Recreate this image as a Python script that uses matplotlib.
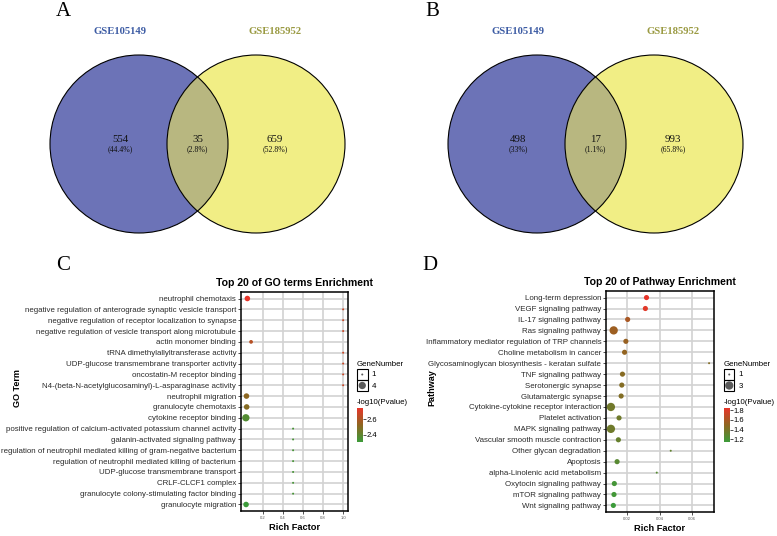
import matplotlib
matplotlib.use("Agg")
import matplotlib.pyplot as plt
import numpy as np
from matplotlib.patches import Circle, Rectangle
from matplotlib.colors import LinearSegmentedColormap, Normalize
from matplotlib.cm import ScalarMappable

plt.rcParams['font.family'] = ['Liberation Sans', 'DejaVu Sans']

# ---------------- data ----------------
venn_sets = ["GSE105149", "GSE185952"]
venn_A = [554, 35, 659]      # only set1, both, only set2
venn_B = [498, 17, 993]

go_terms = [
    "neutrophil chemotaxis",
    "negative regulation of anterograde synaptic vesicle transport",
    "negative regulation of receptor localization to synapse",
    "negative regulation of vesicle transport along microtubule",
    "actin monomer binding",
    "tRNA dimethylallyltransferase activity",
    "UDP-glucose transmembrane transporter activity",
    "oncostatin-M receptor binding",
    "N4-(beta-N-acetylglucosaminyl)-L-asparaginase activity",
    "neutrophil migration",
    "granulocyte chemotaxis",
    "cytokine receptor binding",
    "positive regulation of calcium-activated potassium channel activity",
    "galanin-activated signaling pathway",
    "regulation of neutrophil mediated killing of gram-negative bacterium",
    "regulation of neutrophil mediated killing of bacterium",
    "UDP-glucose transmembrane transport",
    "CRLF-CLCF1 complex",
    "granulocyte colony-stimulating factor binding",
    "granulocyte migration",
]
go_rich = [0.043, 1.0, 1.0, 1.0, 0.08, 1.0, 1.0, 1.0, 1.0, 0.034, 0.036, 0.028,
           0.5, 0.5, 0.5, 0.5, 0.5, 0.5, 0.5, 0.030]
go_genes = [3, 1, 1, 1, 2, 1, 1, 1, 1, 3, 3, 4, 1, 1, 1, 1, 1, 1, 1, 3]
go_logp = [2.74, 2.66, 2.66, 2.66, 2.62, 2.66, 2.66, 2.66, 2.66, 2.52, 2.50, 2.37,
           2.34, 2.34, 2.34, 2.34, 2.34, 2.34, 2.34, 2.31]
go_xticks = [0.2, 0.4, 0.6, 0.8, 1.0]
go_xticklabels = ["0.2", "0.4", "0.6", "0.8", "1.0"]
go_cbar_ticks = [2.4, 2.6]

kegg_terms = [
    "Long-term depression",
    "VEGF signaling pathway",
    "IL-17 signaling pathway",
    "Ras signaling pathway",
    "Inflammatory mediator regulation of TRP channels",
    "Choline metabolism in cancer",
    "Glycosaminoglycan biosynthesis - keratan sulfate",
    "TNF signaling pathway",
    "Serotonergic synapse",
    "Glutamatergic synapse",
    "Cytokine-cytokine receptor interaction",
    "Platelet activation",
    "MAPK signaling pathway",
    "Vascular smooth muscle contraction",
    "Other glycan degradation",
    "Apoptosis",
    "alpha-Linolenic acid metabolism",
    "Oxytocin signaling pathway",
    "mTOR signaling pathway",
    "Wnt signaling pathway",
]
kegg_rich = [0.032, 0.0313, 0.0204, 0.0118, 0.0193, 0.0185, 0.0705, 0.0172, 0.0168,
             0.0164, 0.0101, 0.0151, 0.0101, 0.0147, 0.0469, 0.0139, 0.0383, 0.0122,
             0.0120, 0.0116]
kegg_genes = [2, 2, 2, 3, 2, 2, 1, 2, 2, 2, 3, 2, 3, 2, 1, 2, 1, 2, 2, 2]
kegg_logp = [1.85, 1.82, 1.60, 1.55, 1.53, 1.51, 1.45, 1.46, 1.45, 1.44, 1.37, 1.36,
             1.36, 1.32, 1.30, 1.26, 1.25, 1.18, 1.17, 1.14]
kegg_xticks = [0.02, 0.04, 0.06]
kegg_xticklabels = ["0.02", "0.04", "0.06"]
kegg_cbar_ticks = [1.2, 1.4, 1.6, 1.8]

# ---------------- layout helpers ----------------
W, H = 777, 536
fig = plt.figure(figsize=(W / 100, H / 100), dpi=100)
fig.patch.set_facecolor("white")


def add_px_axes(l, t, r, b):
    return fig.add_axes([l / W, 1 - b / H, (r - l) / W, (b - t) / H])


def ftext(x, y, s, **kw):
    return fig.text(x / W, 1 - y / H, s, **kw)


SERIF = ["Liberation Serif", "DejaVu Serif"]
BLUE = "#6c73b7"
YELLOW = "#f1ee85"
OLIVE = "#b8b780"
LAB_BLUE = "#3d5ca4"
LAB_OLIVE = "#9a9a42"

cmap = LinearSegmentedColormap.from_list("gr", ["#3c9b3a", "#8f6621", "#e8352a"])


def pct(v, tot):
    return "(" + format(round(100 * v / tot, 1), "g") + "%)"


def venn(counts, cx_mid):
    r = 89.0
    ax = add_px_axes(cx_mid - 165, 48, cx_mid + 165, 240)
    ax.set_xlim(-165 / r, 165 / r)
    ax.set_ylim(-96 / r, 96 / r)
    ax.axis("off")
    h = 58.5 / r
    left = Circle((-h, 0), 1, facecolor=BLUE, edgecolor="none")
    right = Circle((h, 0), 1, facecolor=YELLOW, edgecolor="none")
    ax.add_patch(left)
    ax.add_patch(right)
    ov = Circle((-h, 0), 1, facecolor=OLIVE, edgecolor="none")
    ax.add_patch(ov)
    ov.set_clip_path(right)
    for c in [(-h, 0), (h, 0)]:
        ax.add_patch(Circle(c, 1, fill=False, edgecolor="black", lw=0.8))
    tot = sum(counts)
    xs = [-77.5 / r, 0, 77.5 / r]
    for x, v in zip(xs, counts):
        ax.text(x, 5 / r, str(v), ha="center", va="center", fontsize=7.8,
                family=SERIF, color="#111111")
        ax.text(x, -5.5 / r, pct(v, tot), ha="center", va="center", fontsize=5.6,
                family=SERIF, color="#111111")
    ax.text(-77.5 / r, 113 / r, venn_sets[0], ha="center", va="center", fontsize=7.7,
            family=SERIF, fontweight="bold", color=LAB_BLUE, clip_on=False)
    ax.text(77.5 / r, 113 / r, venn_sets[1], ha="center", va="center", fontsize=7.7,
            family=SERIF, fontweight="bold", color=LAB_OLIVE, clip_on=False)


venn(venn_A, 197.5)
venn(venn_B, 595.5)

for lab, x, y in [("A", 63, 12), ("B", 432, 12), ("C", 63, 265), ("D", 430, 265)]:
    ftext(x, y, lab, ha="center", va="center", fontsize=15, family=SERIF)


def dotplot(box, terms, rich, genes, logp, title, ylab, ylab_x, dmin, dmax,
            xticks, xticklabels, cbar_ticks, leg_x):
    l, t, r, b = box
    ax = add_px_axes(l, t, r, b)
    n = len(terms)
    y = np.arange(n)[::-1]
    g = np.array(genes, dtype=float)
    gmin, gmax = g.min(), g.max()

    def size_of(v):
        d = dmin + (dmax - dmin) * (np.asarray(v, float) - gmin) / (gmax - gmin)
        return (d * 0.72) ** 2

    norm = Normalize(min(logp), max(logp))
    ax.scatter(rich, y, s=size_of(g), c=logp, cmap=cmap, norm=norm,
               edgecolors="none", zorder=3)
    lo, hi = min(rich), max(rich)
    pad = 0.05 * (hi - lo)
    ax.set_xlim(lo - pad, hi + pad)
    ax.set_ylim(-0.6, n - 0.4)
    ax.set_yticks(y)
    ax.set_yticklabels(terms)
    ax.set_xticks(xticks)
    ax.set_xticklabels(xticklabels)
    ax.grid(True, color="#d2d2d2", lw=1.2)
    ax.set_axisbelow(True)
    for sp in ax.spines.values():
        sp.set_color("black")
        sp.set_linewidth(1.1)
    ax.tick_params(axis="y", length=2.5, width=0.6, pad=1, labelsize=5.7,
                   labelcolor="#2b2b2b", color="#333333")
    ax.tick_params(axis="x", length=2, width=0.6, pad=1.5, labelsize=3,
                   labelcolor="#555555", color="#333333")
    ax.set_title(title, fontsize=7.6, fontweight="bold", pad=4)
    ax.set_xlabel("Rich Factor", fontsize=6.7, fontweight="bold", labelpad=2)
    ftext(ylab_x, 388, ylab, rotation=90, ha="center", va="center", fontsize=6.5,
          fontweight="bold")

    # size legend
    ftext(leg_x, 364, "GeneNumber", ha="left", va="center", fontsize=5.7)
    lax = add_px_axes(leg_x, 369, leg_x + 10.5, 391)
    lax.set_xlim(0, 1)
    lax.set_ylim(2, 0)
    lax.axis("off")
    for k in range(2):
        lax.add_patch(Rectangle((0, k), 1, 1, fill=False, edgecolor="black", lw=0.8,
                                clip_on=False))
    lax.scatter([0.5, 0.5], [0.5, 1.5], s=size_of([gmin, gmax]), color="#5a5a5a",
                edgecolors="none", clip_on=False)
    ftext(leg_x + 14.5, 375, format(gmin, "g"), ha="left", va="center", fontsize=5.7)
    ftext(leg_x + 14.5, 386.5, format(gmax, "g"), ha="left", va="center", fontsize=5.7)

    # colour legend
    ftext(leg_x, 402, "-log10(Pvalue)", ha="left", va="center", fontsize=5.7)
    cax = add_px_axes(leg_x, 408, leg_x + 5.5, 442)
    cb = fig.colorbar(ScalarMappable(norm=norm, cmap=cmap), cax=cax, ticks=cbar_ticks)
    cb.outline.set_visible(False)
    cb.ax.set_yticklabels([format(v, ".1f") for v in cbar_ticks])
    cax.tick_params(labelsize=5.5, length=2, width=0.6, pad=1, color="#333333")
    return ax


dotplot((241, 292, 348, 511), go_terms, go_rich, go_genes, go_logp,
        "Top 20 of GO terms Enrichment", "GO Term", 17, 2.0, 7.3,
        go_xticks, go_xticklabels, go_cbar_ticks, 357)
dotplot((606, 291, 714, 512), kegg_terms, kegg_rich, kegg_genes, kegg_logp,
        "Top 20 of Pathway Enrichment", "Pathway", 432, 2.0, 8.3,
        kegg_xticks, kegg_xticklabels, kegg_cbar_ticks, 724)

fig.savefig("out.png", dpi=100)
